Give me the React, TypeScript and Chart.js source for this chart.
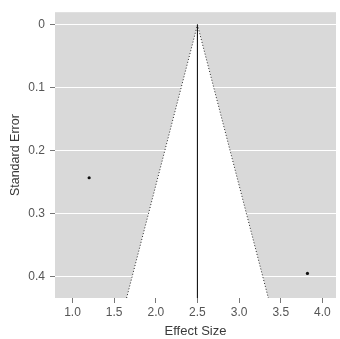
import React, { useEffect, useRef } from "react";
import { Chart, registerables } from "chart.js";

Chart.register(...registerables);

// Study data (effect size, standard error)
const studyEffects = [1.2, 3.82];
const studySE = [0.243, 0.395];

// Funnel centre (pooled estimate) and extent
const pooledEffect = 2.5;
const seMax = 0.434;
const z95 = 1.96;

const xTicks = [1.0, 1.5, 2.0, 2.5, 3.0, 3.5, 4.0];
const yTicks = [0, 0.1, 0.2, 0.3, 0.4];

const xMin = 0.79;
const xMax = 4.163;
const yMin = -0.02;

const bgPlugin = {
  id: "panelBg",
  beforeDraw(chart: any) {
    const { ctx, chartArea } = chart;
    ctx.save();
    ctx.fillStyle = "#d9d9d9";
    ctx.fillRect(chartArea.left, chartArea.top, chartArea.right - chartArea.left, chartArea.bottom - chartArea.top);
    ctx.restore();
  },
};

export default function App() {
  const ref = useRef<HTMLCanvasElement | null>(null);

  useEffect(() => {
    if (!ref.current) return;
    const funnel = [
      { x: pooledEffect - z95 * seMax, y: seMax },
      { x: pooledEffect, y: 0 },
      { x: pooledEffect + z95 * seMax, y: seMax },
    ];
    const centre = [
      { x: pooledEffect, y: 0 },
      { x: pooledEffect, y: seMax },
    ];
    const points = studyEffects.map((e, i) => ({ x: e, y: studySE[i] }));

    const font = "'Liberation Sans', Arial, sans-serif";

    const chart = new Chart(ref.current, {
      type: "scatter",
      data: {
        datasets: [
          {
            type: "line",
            data: funnel,
            borderColor: "#2a2a2a",
            borderWidth: 1,
            borderDash: [1, 2],
            backgroundColor: "#ffffff",
            fill: "start",
            pointRadius: 0,
            tension: 0,
            order: 3,
          } as any,
          {
            type: "line",
            data: centre,
            borderColor: "#1a1a1a",
            borderWidth: 1,
            pointRadius: 0,
            fill: false,
            order: 2,
          } as any,
          {
            type: "scatter",
            data: points,
            backgroundColor: "#111111",
            borderColor: "#111111",
            pointRadius: 1.6,
            borderWidth: 0,
            order: 1,
          } as any,
        ],
      },
      options: {
        animation: false,
        responsive: false,
        maintainAspectRatio: false,
        layout: { padding: { top: 7, right: 0, left: 0, bottom: 0 } },
        plugins: { legend: { display: false }, tooltip: { enabled: false } },
        scales: {
          x: {
            type: "linear",
            min: xMin,
            max: xMax,
            afterBuildTicks: (s: any) => {
              s.ticks = xTicks.map((v) => ({ value: v }));
            },
            afterFit: (s: any) => {
              s.height = 41;
            },
            ticks: {
              callback: (v: any) => Number(v).toFixed(1),
              color: "#555555",
              font: { family: font, size: 12 },
              padding: 2,
              maxRotation: 0,
            },
            grid: {
              drawOnChartArea: false,
              tickLength: 5,
              tickColor: "#777777",
            },
            border: { display: false },
            title: {
              display: true,
              text: "Effect Size",
              color: "#3a3a3a",
              font: { family: font, size: 13 },
              padding: { top: 0, bottom: 0 },
            },
          },
          y: {
            type: "linear",
            reverse: true,
            min: yMin,
            max: seMax,
            afterBuildTicks: (s: any) => {
              s.ticks = yTicks.map((v) => ({ value: v }));
            },
            afterFit: (s: any) => {
              s.width = 55;
            },
            ticks: {
              callback: (v: any) => (Number(v) === 0 ? "0" : Number(v).toFixed(1)),
              color: "#555555",
              font: { family: font, size: 12 },
              padding: 5,
            },
            grid: {
              color: "#ffffff",
              lineWidth: 1,
              tickLength: 5,
              tickColor: "#777777",
            },
            border: { display: false },
            title: {
              display: true,
              text: "Standard Error",
              color: "#3a3a3a",
              font: { family: font, size: 12.5 },
              padding: { top: 8, bottom: 0 },
            },
          },
        },
      },
      plugins: [bgPlugin],
    });
    return () => chart.destroy();
  }, []);

  return (
    <div style={{ position: "fixed", left: 0, top: 0, width: 340, height: 339, background: "#ffffff" }}>
      <canvas ref={ref} width={340} height={339} style={{ display: "block", width: 340, height: 339 }} />
    </div>
  );
}
